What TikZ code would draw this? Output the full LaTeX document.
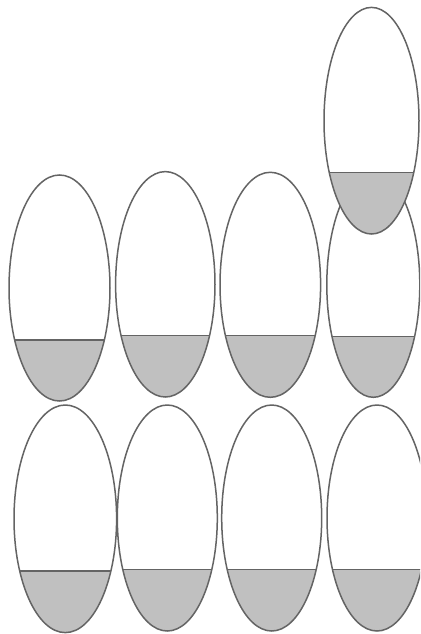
\documentclass[tikz,border=0pt]{standalone}
\definecolor{eggfill}{RGB}{192,192,192}
\definecolor{eggstroke}{RGB}{100,100,100}
\tikzset{eggline/.style={draw=eggstroke,line width=1.5pt}}
\newcommand{\eggshape}[5]{%
  \fill[white] (#1,#2) ellipse [x radius=#3pt, y radius=#4pt];
  \begin{scope}
    \clip (#1,#2) ellipse [x radius=#3pt, y radius=#4pt];
    \fill[eggfill] (#1-#3-3,#5) rectangle (#1+#3+3,#2+#4+3);
    \draw[eggline] (#1-#3-3,#5) -- (#1+#3+3,#5);
  \end{scope}
  \draw[eggline] (#1,#2) ellipse [x radius=#3pt, y radius=#4pt];
}
\begin{document}
\begin{tikzpicture}[x=1pt,y=-1pt]
\useasboundingbox (0,0) rectangle (420,634);
\clip (0,0) rectangle (420,634);
\fill[white] (0,0) rectangle (420,634);
% row 1
\eggshape{59.5}{288}{50.5}{113}{340}
\eggshape{165.3}{284.3}{49.7}{112.7}{335.7}
\eggshape{270.3}{284.8}{50.3}{112.5}{335.7}
\eggshape{373.3}{284.8}{46.5}{112.5}{336.7}
% top right
\eggshape{371.5}{120.7}{47.5}{113.3}{172.7}
% row 2
\eggshape{65.3}{518.8}{51.3}{113.8}{571}
\eggshape{167.3}{518}{50}{113}{569.3}
\eggshape{271.7}{518}{50}{113}{569.3}
\eggshape{377}{518}{50}{113}{569.3}
\end{tikzpicture}
\end{document}
